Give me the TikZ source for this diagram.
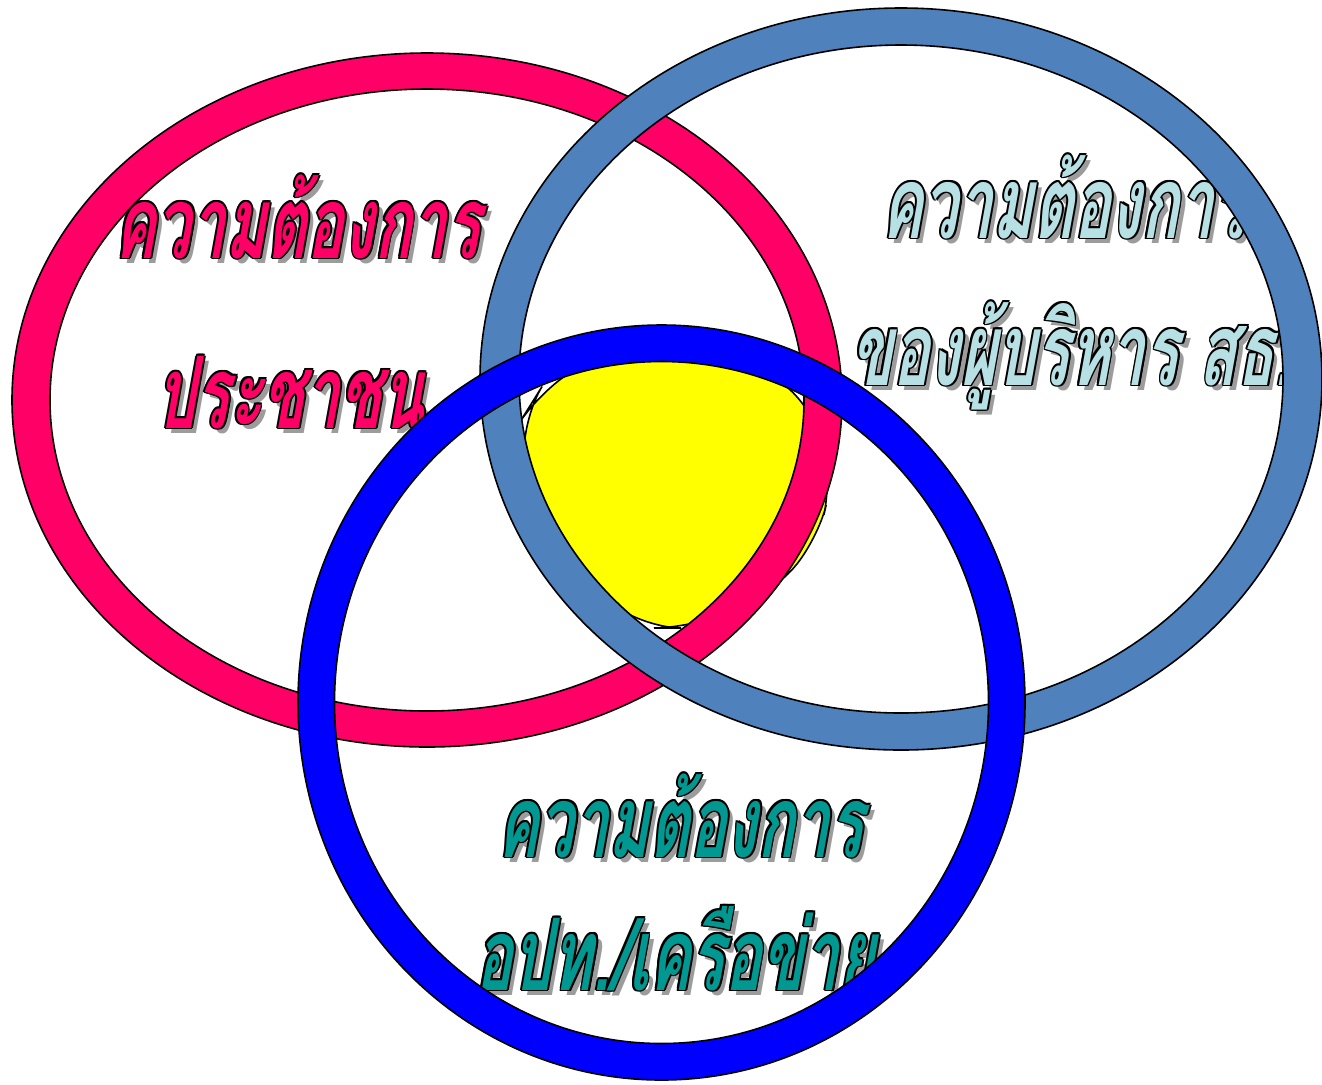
\documentclass[tikz,border=0pt]{standalone}
\usepackage{fontspec}
\newfontfamily\thaifont[Script=Thai,FakeStretch=0.62,FakeSlant=0.18]{Loma}
\definecolor{pinkc}{HTML}{FF0066}
\definecolor{steelc}{HTML}{4F81BD}
\definecolor{bluec}{HTML}{0000FF}
\definecolor{yellowc}{HTML}{FFFF00}
\definecolor{lightc}{HTML}{B7E0E4}
\definecolor{tealc}{HTML}{009890}
\definecolor{shadowc}{HTML}{9C9C9C}
\newcommand\olt[2]{\leavevmode
 \rlap{\kern2.6pt\raisebox{-2.6pt}{\textcolor{shadowc}{#2}}}%
 \rlap{\kern0.9pt\textcolor{black}{#2}}%
 \rlap{\kern-0.9pt\textcolor{black}{#2}}%
 \rlap{\raisebox{0.9pt}{\textcolor{black}{#2}}}%
 \rlap{\raisebox{-0.9pt}{\textcolor{black}{#2}}}%
 \rlap{\kern0.65pt\raisebox{0.65pt}{\textcolor{black}{#2}}}%
 \rlap{\kern-0.65pt\raisebox{0.65pt}{\textcolor{black}{#2}}}%
 \rlap{\kern0.65pt\raisebox{-0.65pt}{\textcolor{black}{#2}}}%
 \rlap{\kern-0.65pt\raisebox{-0.65pt}{\textcolor{black}{#2}}}%
 \textcolor{#1}{#2}}
\tikzset{
  ring/.style={fill=#1, even odd rule, draw=black, line width=0.8pt},
  label/.style={anchor=base, inner sep=0pt, font=\thaifont\bfseries\fontsize{50}{60}\selectfont}
}
\begin{document}
\begin{tikzpicture}[x=0.5pt,y=-0.5pt]
\useasboundingbox (0,0) rectangle (1322,1084);
% yellow centre
\draw[fill=yellowc, line width=0.8pt, rounded corners=18pt]
  (645,628) -- (690,628) -- (770,595) -- (818,540) -- (832,480) -- (815,410)
  -- (760,365) -- (675,345) -- (590,360) -- (538,393) -- (523,417)
  -- (525,480) -- (560,565) -- cycle;
% labels
\node[label] (p1) at (297,258) {\olt{pinkc}{ความต้องการ}};
\node[label] (p2) at (290,428) {\olt{pinkc}{ประชาชน}};
\node[label] (s1) at (1064,238) {\olt{lightc}{ความต้องการ}};
\node[label] (s2) at (1071,385) {\olt{lightc}{ของผู้บริหาร สธ.}};
\node[label] (b1) at (680,857) {\olt{tealc}{ความต้องการ}};
\node[label] (b2) at (675,990) {\olt{tealc}{อปท./เครือข่าย}};
% rings
\path[ring=pinkc] (427,400) ellipse [x radius=415, y radius=347]
                  (427,400) ellipse [x radius=377, y radius=311];
\path[ring=steelc] (901,379) ellipse [x radius=421, y radius=371]
                   (901,379) ellipse [x radius=382, y radius=334];
\path[ring=bluec] (661.5,702.5) ellipse [x radius=363.5, y radius=377.5]
                  (661.5,702.5) ellipse [x radius=327, y radius=341];
\end{tikzpicture}
\end{document}
